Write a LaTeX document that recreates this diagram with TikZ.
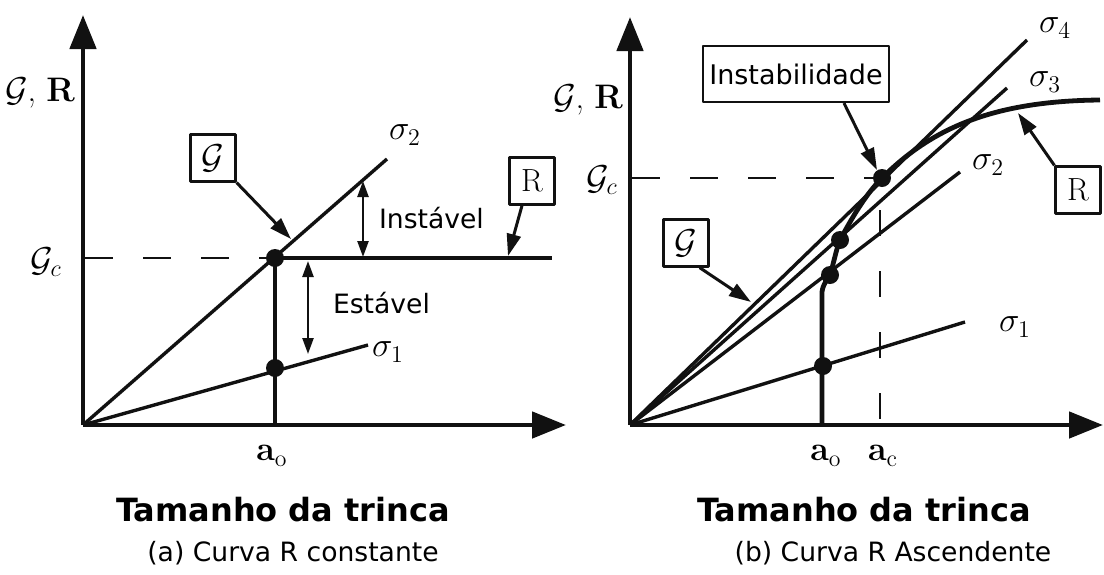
\documentclass[tikz,border=0pt]{standalone}
\usepackage{amsmath,amssymb}
\usepackage{fontspec}
\setsansfont{DejaVu Sans}
\usepackage{tikz}
\usetikzlibrary{arrows.meta,calc,positioning}
\definecolor{inkline}{HTML}{111111}
\tikzset{
every picture/.style={line join=round},
axis line/.style={draw=inkline, line width=2.4pt, -{Triangle[length=17pt,width=13pt]}},
load line/.style={draw=inkline, line width=1.7pt},
resist line/.style={draw=inkline, line width=2.4pt},
crit dash/.style={draw=inkline, line width=1.4pt, dash pattern=on 14pt off 15pt},
crit vdash/.style={draw=inkline, line width=1.4pt, dash pattern=on 13pt off 17.5pt},
callout/.style={draw=inkline, line width=1.5pt, -{Triangle[length=11pt,width=7pt]}},
span arrow/.style={draw=inkline, line width=1.2pt, {Triangle[length=8pt,width=5.5pt]}-{Triangle[length=8pt,width=5.5pt]}},
tag box/.style={draw=inkline, line width=1.1pt, minimum width=22.5pt, minimum height=23.5pt, inner sep=0pt, font=\fontsize{16}{18}\selectfont},
word box/.style={draw=inkline, line width=1.1pt, inner xsep=3pt, minimum height=28pt, font=\sffamily\fontsize{13.5}{16}\selectfont},
sans label/.style={font=\sffamily\fontsize{13.3}{16}\selectfont},
title label/.style={font=\sffamily\bfseries\fontsize{16}{19}\selectfont},
math label/.style={font=\fontsize{17}{20}\selectfont},
dot/.style={circle, fill=inkline, inner sep=0pt, minimum size=9pt}
}

\begin{document}
\begin{tikzpicture}[x=0.5pt,y=-0.5pt]
\useasboundingbox (0,0) rectangle (1104,574);
% --- (a) constant R curve ---
\coordinate (oa) at (83,425);
\coordinate (ya) at (83,15);
\coordinate (xa) at (566,425);
\node[dot] (pa2) at (275,258) {};
\node[dot] (pa1) at (275,368) {};
\coordinate (ea2) at (387,159);
\coordinate (ea1) at (368,345);
\coordinate (ra) at (552,258);
\coordinate (aa) at (275,425);
\draw[load line] (oa) -- (ea2);
\draw[load line] (oa) -- (ea1);
\draw[resist line] (pa2.center) -- (ra);
\draw[resist line] (pa2.center) -- (aa);
\draw[crit dash] (85,258) -- (pa2.west);
\draw[axis line] (oa) -- (ya);
\draw[axis line] (oa) -- (xa);
\node[math label] (gra) at (40,93) {$\mathcal{G}$, \textbf{R}};
\node[math label] (gca) at (46,262) {$\mathcal{G}_c$};
\node[math label] (sa2) at (405,135) {$\sigma_2$};
\node[math label] (sa1) at (388,352) {$\sigma_1$};
\node[math label] (aoa) at (272,456) {\textbf{a}$_\mathrm{o}$};
\node[tag box] (gboxa) at (213,158) {$\mathcal{G}$};
\node[tag box] (rboxa) at (532,181) {R};
\coordinate (gtipa) at (291,239);
\coordinate (rtipa) at (508,256);
\draw[callout] (gboxa.south east) -- (gtipa);
\draw[callout] ([xshift=-5pt]rboxa.south) -- (rtipa);
\coordinate (ia1) at (363,181);
\coordinate (ia2) at (363,257);
\coordinate (sa1t) at (308,261);
\coordinate (sa1b) at (308,354);
\draw[span arrow] (ia1) -- (ia2);
\draw[span arrow] (sa1t) -- (sa1b);
\node[sans label, anchor=west] (insta) at (372,218) {Instável};
\node[sans label, anchor=west] (esta) at (326,303) {Estável};
\node[title label] (tta) at (283,510) {Tamanho da trinca};
\node[sans label] (capa) at (293,553) {(a) Curva R constante};
% --- (b) rising R curve ---
\coordinate (ob) at (630,425);
\coordinate (yb) at (630,17);
\coordinate (xb) at (1103,425);
\coordinate (eb4) at (1027,40);
\coordinate (eb3) at (1007,88);
\coordinate (eb2) at (960,172);
\coordinate (eb1) at (965,322);
\draw[load line] (ob) -- (eb4);
\draw[load line] (ob) -- (eb3);
\draw[load line] (ob) -- (eb2);
\draw[load line] (ob) -- (eb1);
\node[dot] (pb4) at (882,178) {};
\node[dot] (pb3) at (840,240) {};
\node[dot] (pb2) at (830,275) {};
\node[dot] (pb1) at (823,366) {};
\draw[resist line] (822,425) -- (822,292) .. controls (823,284) and (827,280) .. (pb2.center)
  .. controls (834,262) and (836,250) .. (pb3.center)
  .. controls (855,212) and (868,192) .. (pb4.center)
  .. controls (930,130) and (990,101) .. (1100,100);
\draw[crit dash] (632,178) -- (pb4.west);
\draw[crit vdash] (880,210) -- (880,425);
\draw[axis line] (ob) -- (yb);
\draw[axis line] (ob) -- (xb);
\node[math label] (grb) at (588,100) {$\mathcal{G}$, \textbf{R}};
\node[math label] (gcb) at (602,180) {$\mathcal{G}_c$};
\node[math label] (sb4) at (1055,28) {$\sigma_4$};
\node[math label] (sb3) at (1045,82) {$\sigma_3$};
\node[math label] (sb2) at (988,165) {$\sigma_2$};
\node[math label] (sb1) at (1015,327) {$\sigma_1$};
\node[math label] (aob) at (826,456) {\textbf{a}$_\mathrm{o}$};
\node[math label] (acb) at (883,456) {\textbf{a}$_\mathrm{c}$};
\node[word box] (instb) at (796,74) {Instabilidade};
\node[tag box] (gboxb) at (686,243) {$\mathcal{G}$};
\node[tag box] (rboxb) at (1078,190) {R};
\coordinate (itipb) at (877,170);
\coordinate (gtipb) at (751,302);
\coordinate (rtipb) at (1018,113);
\draw[callout] ([xshift=24pt]instb.south) -- (itipb);
\draw[callout] ([xshift=-5pt]gboxb.south east) -- (gtipb);
\draw[callout] (rboxb.north west) -- (rtipb);
\node[title label] (ttb) at (864,510) {Tamanho da trinca};
\node[sans label] (capb) at (893,553) {(b) Curva R Ascendente};
\end{tikzpicture}
\end{document}
